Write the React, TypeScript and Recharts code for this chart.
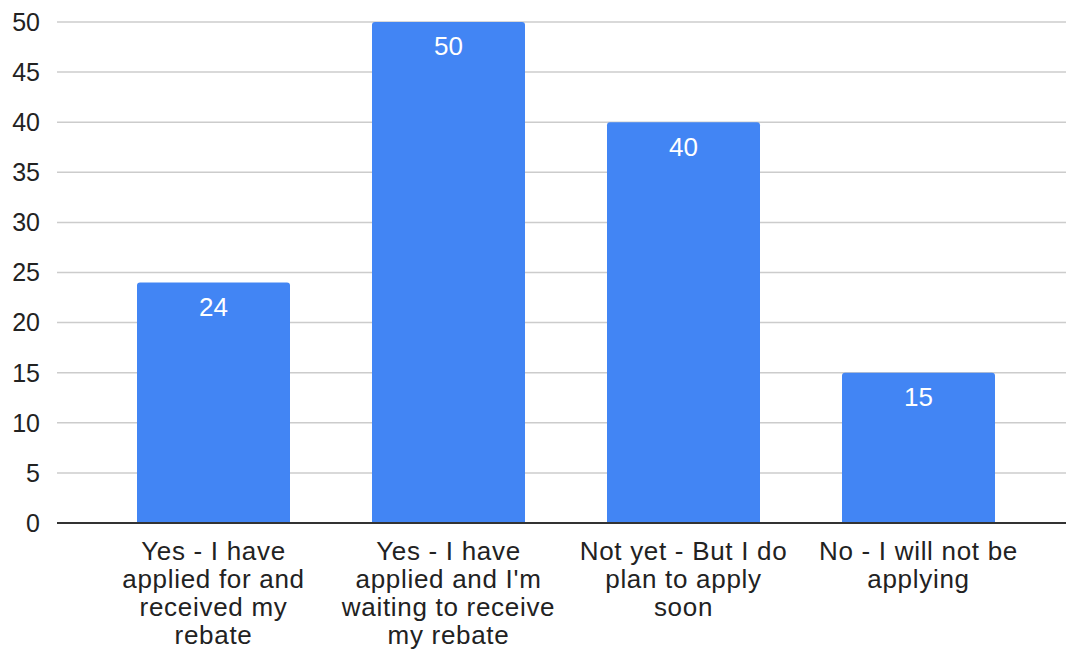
import { BarChart, Bar, XAxis, YAxis, CartesianGrid, LabelList } from "recharts";

const categories = [
  "Yes - I have\napplied for and\nreceived my\nrebate",
  "Yes - I have\napplied and I'm\nwaiting to receive\nmy rebate",
  "Not yet - But I do\nplan to apply\nsoon",
  "No - I will not be\napplying",
];
const responses = [24, 50, 40, 15];
const yTicks = [0, 5, 10, 15, 20, 25, 30, 35, 40, 45, 50];

const data = categories.map((name, i) => ({ name, value: responses[i] }));

const FONT = "'Liberation Sans', Arial, sans-serif";

function CategoryTick(props: any) {
  const { x, y, payload } = props;
  const lines = String(payload.value).split("\n");
  return (
    <g transform={`translate(${x},${y})`}>
      <text textAnchor="middle" fill="#222" fontSize={26} letterSpacing={0.7} fontFamily={FONT}>
        {lines.map((line: string, i: number) => (
          <tspan key={i} x={0} y={29 + i * 28}>
            {line}
          </tspan>
        ))}
      </text>
    </g>
  );
}

export default function App() {
  return (
    <div style={{ position: "absolute", left: 0, top: 0, width: 1066, height: 649, overflow: "hidden", background: "#fff" }}>
      <BarChart
        width={1080}
        height={649}
        data={data}
        margin={{ top: 22, right: 5, left: 0, bottom: 0 }}
      >
        <CartesianGrid vertical={false} stroke="#cccccc" strokeWidth={1.5} />
        <XAxis
          dataKey="name"
          interval={0}
          height={126}
          padding={{ left: 39, right: 39 }}
          axisLine={{ stroke: "#333", strokeWidth: 2 }}
          tickLine={false}
          tick={<CategoryTick />}
        />
        <YAxis
          width={57}
          domain={[0, 50]}
          ticks={yTicks}
          axisLine={false}
          tickLine={false}
          tickMargin={11}
          tick={{ fill: "#222", fontSize: 25, fontFamily: FONT }}
        />
        <Bar dataKey="value" fill="#4285F4" barSize={153} radius={[3, 3, 0, 0]} isAnimationActive={false}>
          <LabelList
            dataKey="value"
            position="insideTop"
            offset={15}
            fill="#ffffff"
            fontSize={26}
            fontFamily={FONT}
          />
        </Bar>
      </BarChart>
    </div>
  );
}
